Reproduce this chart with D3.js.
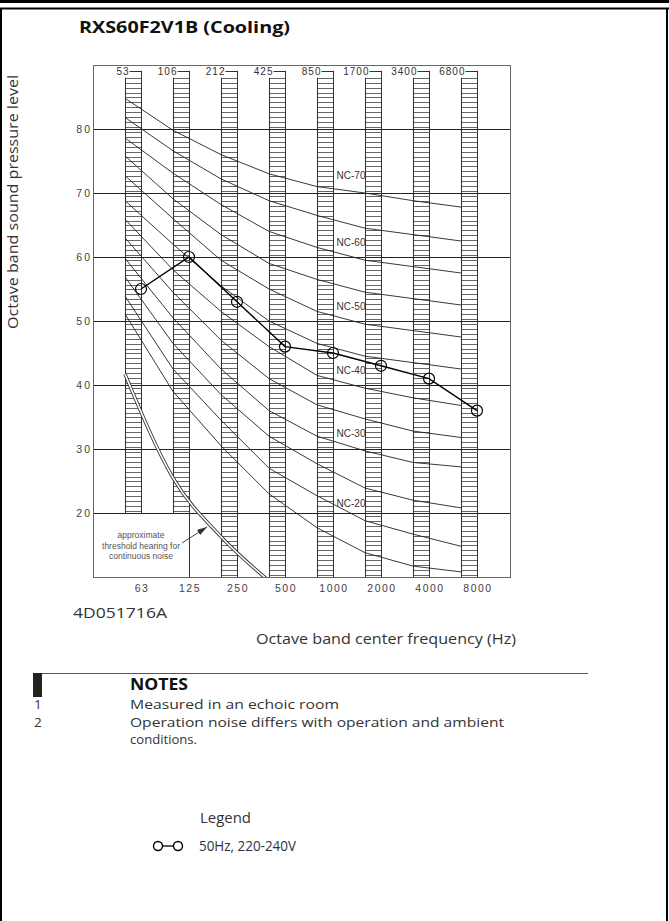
<!DOCTYPE html>
<html>
<head>
<meta charset="utf-8">
<script src="https://cdn.jsdelivr.net/npm/d3@7"></script>
<style>
  html, body { margin: 0; padding: 0; background: #fff; }
  svg { display: block; }
</style>
</head>
<body>
<script>
// Octave bands (bottom axis) and band edge labels (top of each hatched column)
const bands = ["63", "125", "250", "500", "1000", "2000", "4000", "8000"];
const bandEdges = ["53", "106", "212", "425", "850", "1700", "3400", "6800"];
const levelTicks = [20, 30, 40, 50, 60, 70, 80];

// Measured octave band levels, 50Hz 220-240V
const measured = [55, 60, 53, 46, 45, 43, 41, 36];

// Noise criterion curves, one level per octave band
const nc70 = [84.8, 79.8, 76.0, 73.0, 71.0, 70.0, 68.8, 67.8];
const nc65 = [81.8, 76.6, 72.2, 68.8, 66.5, 64.5, 63.5, 62.5];
const nc60 = [78.6, 73.1, 68.2, 64.0, 61.5, 59.5, 58.5, 57.5];
const nc55 = [75.8, 69.1, 63.5, 59.0, 56.5, 54.5, 53.5, 52.5];
const nc50 = [72.7, 66.0, 59.5, 55.0, 51.5, 49.5, 48.5, 47.5];
const nc45 = [68.8, 62.0, 55.5, 50.0, 46.5, 44.5, 43.5, 42.5];
const nc40 = [65.9, 58.0, 51.5, 46.0, 41.5, 39.5, 38.0, 36.8];
const nc35 = [63.0, 54.5, 47.0, 41.0, 36.9, 34.7, 32.8, 31.8];
const nc30 = [59.8, 50.5, 42.5, 36.0, 32.0, 29.7, 27.9, 27.2];
const nc25 = [56.9, 46.5, 38.5, 32.0, 27.7, 23.9, 22.0, 20.8];
const nc20 = [53.9, 42.5, 34.5, 27.0, 22.7, 18.8, 16.7, 14.8];
const nc15 = [51.1, 39.0, 30.5, 23.0, 17.7, 13.8, 11.7, 10.8];
const ncCurves = [
  { name: "NC-70", values: nc70, labelled: true },
  { name: "NC-65", values: nc65, labelled: false },
  { name: "NC-60", values: nc60, labelled: true },
  { name: "NC-55", values: nc55, labelled: false },
  { name: "NC-50", values: nc50, labelled: true },
  { name: "NC-45", values: nc45, labelled: false },
  { name: "NC-40", values: nc40, labelled: true },
  { name: "NC-35", values: nc35, labelled: false },
  { name: "NC-30", values: nc30, labelled: true },
  { name: "NC-25", values: nc25, labelled: false },
  { name: "NC-20", values: nc20, labelled: true },
  { name: "NC-15", values: nc15, labelled: false }
];

// Approximate threshold of hearing for continuous noise (63 .. 500 Hz)
const threshold = [41.7, 25.5, 16.3, 9.4];

const notes = [
  ["1", ["Measured in an echoic room"]],
  ["2", ["Operation noise differs with operation and ambient", "conditions."]]
];

const W = 669, H = 921;
const svg = d3.select("body").append("svg")
  .attr("width", W).attr("height", H)
  .attr("font-family", "'Open Sans', 'Noto Sans', sans-serif");

// page frame
svg.append("rect").attr("x", 0).attr("y", 0).attr("width", W).attr("height", 3).attr("fill", "#000");
svg.append("line").attr("x1", 0).attr("x2", W).attr("y1", 8.5).attr("y2", 8.5)
  .attr("stroke", "#000").attr("stroke-width", 2);
svg.append("line").attr("x1", 1).attr("x2", 1).attr("y1", 8).attr("y2", H)
  .attr("stroke", "#000").attr("stroke-width", 2);
svg.append("line").attr("x1", W - 2).attr("x2", W - 2).attr("y1", 8).attr("y2", H)
  .attr("stroke", "#000").attr("stroke-width", 2);

// fit a text element to a given width
function fit(sel, width) {
  sel.attr("textLength", width).attr("lengthAdjust", "spacingAndGlyphs");
  return sel;
}
const crisp = v => Math.round(v) + 0.5;

// title
fit(svg.append("text").attr("x", 79).attr("y", 33)
  .attr("font-size", 16.5).attr("font-weight", 700).attr("fill", "#111")
  .text("RXS60F2V1B (Cooling)"), 211);

// plot area
const plot = { left: 93, right: 510, top: 65, bottom: 577 };
const y = d3.scaleLinear().domain([10, 90]).range([plot.bottom, plot.top]);
const colX = d3.scaleLinear().domain([0, bands.length - 1]).range([125, 461]);
const colW = 16;
const bandX = i => colX(i) + colW;

const cad = "'Liberation Sans', Arial, sans-serif";
const g = svg.append("g");

// hatched band columns
const hatchLevels = d3.range(88, 10, -10 / 13);
const boxTop = 20;      // the threshold note box sits below this level
bands.forEach((b, i) => {
  const x0 = crisp(colX(i)), x1 = crisp(colX(i) + colW);
  const bottomLevel = i < 2 ? boxTop : 10;
  const cg = g.append("g");
  cg.selectAll("line.h").data(hatchLevels.filter(v => v >= bottomLevel))
    .join("line")
    .attr("x1", x0).attr("x2", x1)
    .attr("y1", d => crisp(y(d))).attr("y2", d => crisp(y(d)))
    .attr("stroke", "#666").attr("stroke-width", 1);
  cg.append("line").attr("x1", x0).attr("x2", x0)
    .attr("y1", y(88)).attr("y2", y(bottomLevel))
    .attr("stroke", "#333").attr("stroke-width", 1);
  cg.append("line").attr("x1", x1).attr("x2", x1)
    .attr("y1", y(89.1)).attr("y2", y(i === 1 ? 10 : bottomLevel))
    .attr("stroke", "#333").attr("stroke-width", 1);
  // band edge label with its leader
  cg.append("line").attr("x1", x0 + 4).attr("x2", x1)
    .attr("y1", crisp(y(89.1))).attr("y2", crisp(y(89.1)))
    .attr("stroke", "#333").attr("stroke-width", 1);
  cg.append("text").attr("x", x0 + 4).attr("y", 74.5)
    .attr("text-anchor", "end").attr("font-family", cad)
    .attr("font-size", 10).attr("letter-spacing", 1).attr("fill", "#333")
    .text(bandEdges[i]);
});

// horizontal level grid
g.selectAll("line.grid").data(levelTicks).join("line")
  .attr("x1", plot.left).attr("x2", plot.right)
  .attr("y1", d => crisp(y(d))).attr("y2", d => crisp(y(d)))
  .attr("stroke", "#222").attr("stroke-width", 1);

// plot frame
g.append("rect").attr("x", crisp(plot.left)).attr("y", crisp(plot.top))
  .attr("width", plot.right - plot.left).attr("height", plot.bottom - plot.top)
  .attr("fill", "none").attr("stroke", "#666").attr("stroke-width", 1);

// level labels
g.selectAll("text.yt").data(levelTicks).join("text")
  .attr("x", 92).attr("y", d => y(d) + 3.8)
  .attr("text-anchor", "end").attr("font-family", cad)
  .attr("font-size", 10.5).attr("letter-spacing", 2).attr("fill", "#444")
  .text(d => d);

// NC curves
const ncLine = d3.line().x((d, i) => colX(i)).y(d => y(d));
g.selectAll("path.nc").data(ncCurves).join("path")
  .attr("d", d => ncLine(d.values))
  .attr("fill", "none").attr("stroke", "#222").attr("stroke-width", 0.9);

g.selectAll("text.nc").data(ncCurves.filter(d => d.labelled)).join("text")
  .attr("x", colX(5) + 0.5).attr("y", d => y(d.values[5]) - 14)
  .attr("text-anchor", "end").attr("font-family", cad)
  .attr("font-size", 10).attr("fill", "#333")
  .text(d => d.name);

// threshold of hearing (double line)
svg.append("clipPath").attr("id", "plotClip").append("rect")
  .attr("x", plot.left).attr("y", plot.top)
  .attr("width", plot.right - plot.left).attr("height", plot.bottom - plot.top);
const thLine = d3.line().x((d, i) => colX(i)).y(d => y(d)).curve(d3.curveMonotoneX);
const th = g.append("g").attr("clip-path", "url(#plotClip)");
th.append("path").attr("d", thLine(threshold))
  .attr("fill", "none").attr("stroke", "#333").attr("stroke-width", 3.4);
th.append("path").attr("d", thLine(threshold))
  .attr("fill", "none").attr("stroke", "#fff").attr("stroke-width", 1.6);

// threshold note and arrow
const noteX = (plot.left + bandX(1)) / 2;
const noteLines = ["approximate", "threshold hearing for", "continuous noise"];
g.selectAll("text.th").data(noteLines).join("text")
  .attr("x", noteX).attr("y", (d, i) => y(boxTop) + 25 + i * 10.5)
  .attr("text-anchor", "middle")
  .attr("font-family", "'Liberation Sans Narrow', 'Liberation Sans', sans-serif")
  .attr("font-size", 8.5).attr("fill", "#555")
  .text(d => d);
svg.append("defs").append("marker").attr("id", "arrowHead")
  .attr("viewBox", "0 0 10 6").attr("refX", 10).attr("refY", 3)
  .attr("markerWidth", 10).attr("markerHeight", 6).attr("orient", "auto")
  .attr("markerUnits", "userSpaceOnUse")
  .append("path").attr("d", "M0,0L10,3L0,6Z").attr("fill", "#333");
g.append("line")
  .attr("x1", bandX(1) - 7).attr("y1", y(boxTop) + 30)
  .attr("x2", colX(2) - 14).attr("y2", y(boxTop) + 14)
  .attr("stroke", "#333").attr("stroke-width", 0.9)
  .attr("marker-end", "url(#arrowHead)");

// measured levels
const mLine = d3.line().x((d, i) => bandX(i)).y(d => y(d));
g.append("path").attr("d", mLine(measured))
  .attr("fill", "none").attr("stroke", "#000").attr("stroke-width", 1.4);
g.selectAll("circle.m").data(measured).join("circle")
  .attr("cx", (d, i) => bandX(i)).attr("cy", d => y(d)).attr("r", 5.5)
  .attr("fill", "none").attr("stroke", "#000").attr("stroke-width", 1.2);

// band centre labels
g.selectAll("text.xb").data(bands).join("text")
  .attr("x", (d, i) => bandX(i) + 1).attr("y", 592)
  .attr("text-anchor", "middle").attr("font-family", cad)
  .attr("font-size", 10.5).attr("letter-spacing", 1.5).attr("fill", "#444")
  .text(d => d);

// axis titles and drawing number
fit(svg.append("text")
  .attr("transform", "translate(18,202) rotate(-90)")
  .attr("text-anchor", "middle").attr("font-size", 14).attr("fill", "#333")
  .text("Octave band sound pressure level"), 254);
fit(svg.append("text").attr("x", 73).attr("y", 618)
  .attr("font-size", 14.5).attr("fill", "#333").text("4D051716A"), 94);
fit(svg.append("text").attr("x", 256).attr("y", 644)
  .attr("font-size", 14).attr("fill", "#333").text("Octave band center frequency (Hz)"), 260);

// notes
svg.append("line").attr("x1", 34).attr("x2", 588).attr("y1", 673.5).attr("y2", 673.5)
  .attr("stroke", "#555").attr("stroke-width", 1);
svg.append("rect").attr("x", 33).attr("y", 673).attr("width", 9).attr("height", 24).attr("fill", "#222");
fit(svg.append("text").attr("x", 130).attr("y", 690)
  .attr("font-size", 16).attr("font-weight", 700).attr("fill", "#111").text("NOTES"), 58);
const noteWidths = { "Measured in an echoic room": 209,
  "Operation noise differs with operation and ambient": 374, "conditions.": 67 };
let ny = 708.5;
notes.forEach(([num, lines]) => {
  svg.append("text").attr("x", 34).attr("y", ny).attr("font-size", 13.5).attr("fill", "#333").text(num);
  lines.forEach((t, k) => {
    fit(svg.append("text").attr("x", 130).attr("y", ny + k * 16.6)
      .attr("font-size", k > 0 ? 12 : 13.5).attr("fill", "#333").text(t), noteWidths[t]);
  });
  ny += 18.5;
});

// legend
fit(svg.append("text").attr("x", 200).attr("y", 823)
  .attr("font-size", 14).attr("fill", "#333").text("Legend"), 51);
const lg = svg.append("g");
lg.append("line").attr("x1", 158).attr("x2", 178).attr("y1", 846).attr("y2", 846)
  .attr("stroke", "#000").attr("stroke-width", 1.3);
lg.selectAll("circle").data([158, 178]).join("circle")
  .attr("cx", d => d).attr("cy", 846).attr("r", 4.5)
  .attr("fill", "#fff").attr("stroke", "#000").attr("stroke-width", 1.4);
fit(svg.append("text").attr("x", 199).attr("y", 851)
  .attr("font-size", 14).attr("fill", "#333").text("50Hz, 220-240V"), 97);
</script>
</body>
</html>
